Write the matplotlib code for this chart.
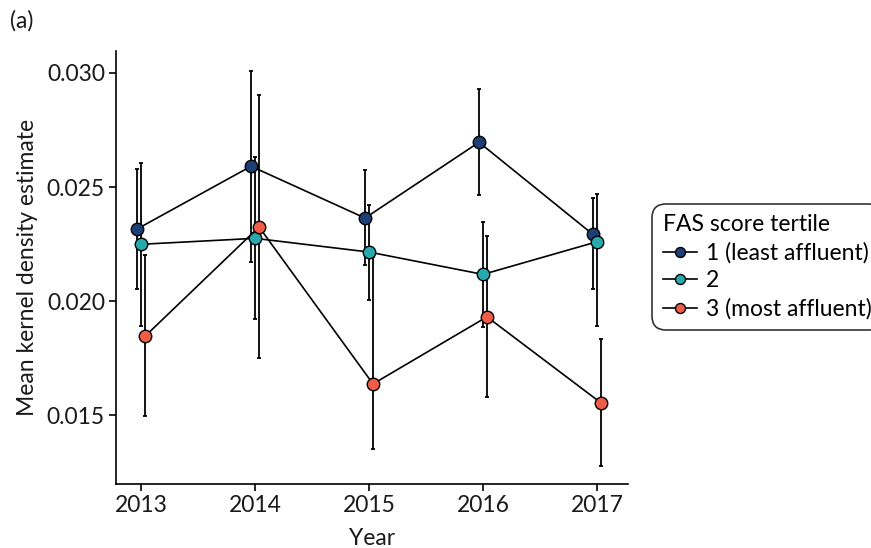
import matplotlib
matplotlib.use("Agg")
import matplotlib.pyplot as plt
import numpy as np

plt.rcParams['font.family'] = ['Lato', 'DejaVu Sans']

years = [2013, 2014, 2015, 2016, 2017]
labels = ["1 (least affluent)", "2", "3 (most affluent)"]
colors = ["#1c3f75", "#27a9ae", "#ef5c48"]

mean_1 = [0.02316, 0.02591, 0.02364, 0.02696, 0.02292]
low_1 = [0.02051, 0.02171, 0.02157, 0.02465, 0.02051]
high_1 = [0.02578, 0.03010, 0.02576, 0.02930, 0.02452]

mean_2 = [0.02249, 0.02275, 0.02215, 0.02117, 0.02260]
low_2 = [0.01889, 0.01921, 0.02004, 0.01885, 0.01889]
high_2 = [0.02604, 0.02630, 0.02421, 0.02348, 0.02469]

mean_3 = [0.01846, 0.02325, 0.01637, 0.01931, 0.01554]
low_3 = [0.01496, 0.01751, 0.01350, 0.01580, 0.01278]
high_3 = [0.02200, 0.02904, 0.02192, 0.02284, 0.01833]

series = [(mean_1, low_1, high_1), (mean_2, low_2, high_2), (mean_3, low_3, high_3)]
offsets = [-0.035, 0.0, 0.035]

FS = 16.5

fig = plt.figure(figsize=(8.71, 5.48), dpi=100)
ax = fig.add_axes([0.1332, 0.1162, 0.5875, 0.7907])

handles = []
for (m, lo, hi), off, c, lab in zip(series, offsets, colors, labels):
    x = np.array(years) + off
    m = np.array(m)
    yerr = [m - np.array(lo), np.array(hi) - m]
    ax.errorbar(x, m, yerr=yerr, fmt='none', ecolor='black', elinewidth=1.3,
                capsize=1.2, capthick=1.3, zorder=2)
    h, = ax.plot(x, m, '-o', color='black', lw=1.2, markersize=9,
                 markerfacecolor=c, markeredgecolor='black', markeredgewidth=1.0,
                 label=lab, zorder=3)
    handles.append(h)

ax.set_xlim(2012.78, 2017.27)
ax.set_ylim(0.01197, 0.03096)
ax.set_xticks(years)
ax.set_yticks([0.015, 0.020, 0.025, 0.030])
ax.set_yticklabels(["0.015", "0.020", "0.025", "0.030"])
ax.tick_params(labelsize=FS, width=1.2, length=5, color='black', labelcolor='#1a1a1a', pad=3)
for s in ['top', 'right']:
    ax.spines[s].set_visible(False)
for s in ['left', 'bottom']:
    ax.spines[s].set_linewidth(1.2)

ax.set_xlabel("Year", fontsize=FS, color='#1a1a1a', labelpad=8)
ax.set_ylabel("Mean kernel density estimate", fontsize=FS, color='#1a1a1a', labelpad=6)

leg = fig.legend(handles=handles, labels=labels, title="FAS score tertile",
                 loc='upper left', bbox_to_anchor=(0.749, 0.628),
                 fontsize=FS, title_fontsize=FS, frameon=True, fancybox=True,
                 edgecolor='black', handlelength=1.5, handletextpad=0.4,
                 borderpad=0.45, labelspacing=0.3, borderaxespad=0.0,
                 markerscale=0.8)
leg._legend_box.align = "left"
leg.get_frame().set_linewidth(1.2)
leg.get_frame().set_boxstyle("round,pad=0,rounding_size=0.6")

fig.text(0.012, 0.962, "(a)", fontsize=FS, color='#1a1a1a', va='center')

fig.savefig("out.png", dpi=100)
